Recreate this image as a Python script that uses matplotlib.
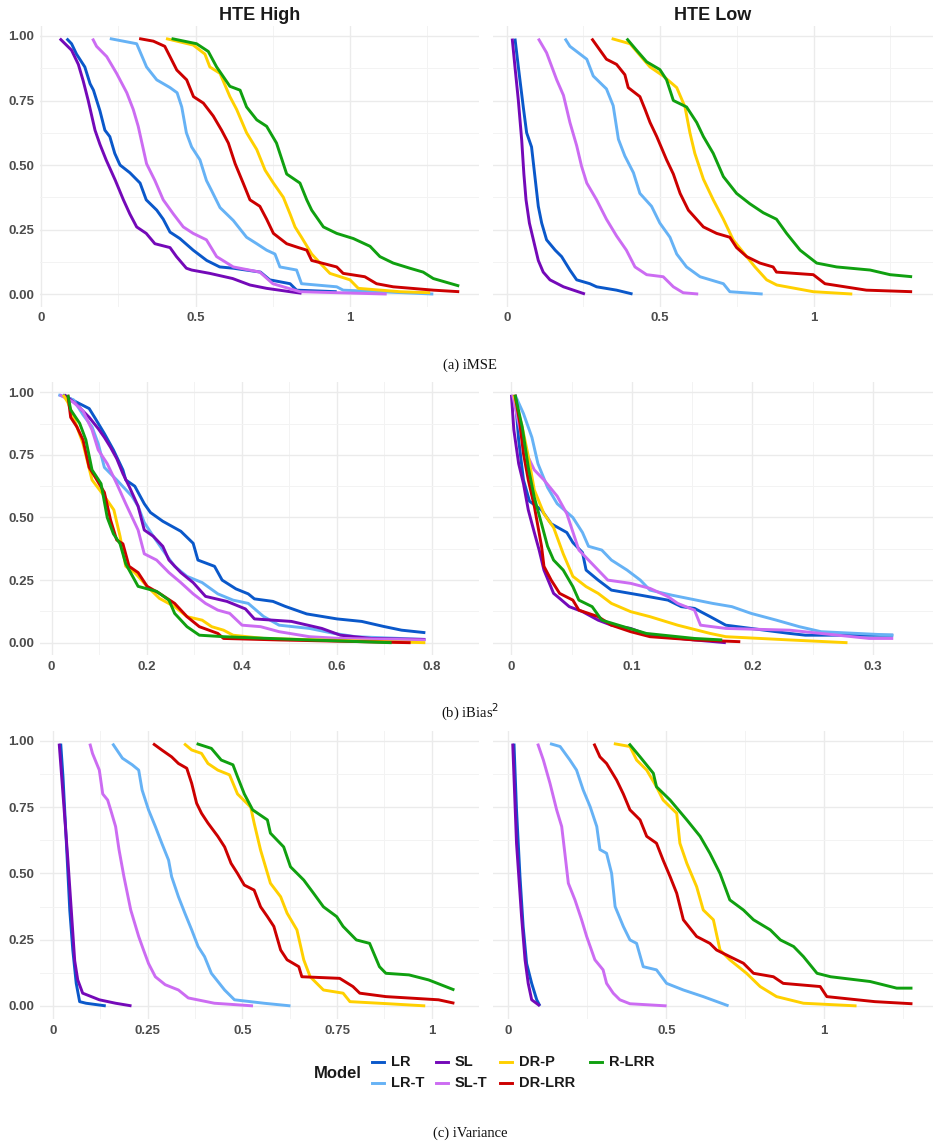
import matplotlib
matplotlib.use("Agg")
import matplotlib.pyplot as plt
from matplotlib.lines import Line2D

# ---------------- data ----------------
MODELS = ["LR", "LR-T", "SL", "SL-T", "DR-P", "DR-LRR", "R-LRR"]
COLORS = {"LR": "#0A58CA", "LR-T": "#66B2F5", "SL": "#7409B8", "SL-T": "#CC6CF2",
          "DR-P": "#FFD000", "DR-LRR": "#CC0000", "R-LRR": "#10A010"}
COL_TITLES = ["HTE High", "HTE Low"]
CAPTIONS = ["(a) iMSE", "(b) iBias$^2$", "(c) iVariance"]

# each curve: list of (value, share of runs above value)
IMSE_HIGH = {
    "SL": [(0.06,0.99),(0.098,0.945),(0.12,0.89),(0.136,0.825),(0.152,0.75),(0.174,0.635),(0.19,0.58),(0.21,0.52),(0.24,0.44),(0.266,0.365),(0.287,0.31),(0.309,0.26),(0.34,0.235),(0.368,0.195),(0.417,0.18),(0.438,0.145),(0.47,0.10),(0.487,0.093),(0.546,0.08),(0.62,0.06),(0.676,0.035),(0.73,0.022),(0.806,0.009),(0.843,0.003)],
    "LR": [(0.082,0.99),(0.098,0.97),(0.114,0.93),(0.141,0.88),(0.158,0.815),(0.169,0.79),(0.19,0.71),(0.206,0.635),(0.222,0.61),(0.238,0.545),(0.255,0.50),(0.287,0.47),(0.32,0.43),(0.34,0.365),(0.374,0.325),(0.395,0.29),(0.417,0.24),(0.449,0.215),(0.492,0.17),(0.536,0.13),(0.578,0.105),(0.622,0.10),(0.71,0.085),(0.74,0.055),(0.806,0.04),(0.827,0.015),(0.957,0.009)],
    "LR-T": [(0.222,0.99),(0.309,0.97),(0.341,0.88),(0.374,0.83),(0.417,0.80),(0.44,0.78),(0.455,0.725),(0.47,0.625),(0.487,0.57),(0.514,0.52),(0.535,0.44),(0.552,0.40),(0.579,0.335),(0.622,0.285),(0.665,0.22),(0.698,0.195),(0.73,0.17),(0.757,0.155),(0.773,0.105),(0.827,0.093),(0.843,0.04),(0.957,0.028),(0.978,0.015),(1.27,0.0)],
    "SL-T": [(0.166,0.99),(0.179,0.96),(0.212,0.92),(0.244,0.855),(0.277,0.78),(0.298,0.715),(0.314,0.65),(0.341,0.505),(0.368,0.44),(0.395,0.365),(0.428,0.31),(0.46,0.26),(0.492,0.235),(0.535,0.21),(0.568,0.145),(0.622,0.105),(0.708,0.085),(0.75,0.04),(0.838,0.009),(1.119,0.0)],
    "DR-P": [(0.404,0.99),(0.492,0.965),(0.53,0.93),(0.546,0.88),(0.579,0.855),(0.611,0.765),(0.633,0.715),(0.665,0.625),(0.698,0.56),(0.725,0.48),(0.752,0.43),(0.784,0.375),(0.806,0.31),(0.822,0.26),(0.843,0.22),(0.876,0.155),(0.903,0.12),(0.935,0.08),(1.0,0.055),(1.027,0.022),(1.162,0.009),(1.26,0.005)],
    "DR-LRR": [(0.317,0.99),(0.363,0.98),(0.40,0.96),(0.417,0.92),(0.439,0.868),(0.471,0.83),(0.493,0.765),(0.525,0.74),(0.557,0.69),(0.584,0.635),(0.606,0.585),(0.628,0.505),(0.654,0.43),(0.676,0.365),(0.708,0.34),(0.73,0.29),(0.752,0.235),(0.795,0.195),(0.833,0.18),(0.86,0.17),(0.876,0.13),(0.957,0.105),(0.978,0.08),(1.048,0.067),(1.086,0.04),(1.14,0.028),(1.27,0.015),(1.354,0.009)],
    "R-LRR": [(0.422,0.99),(0.503,0.97),(0.541,0.94),(0.568,0.88),(0.611,0.805),(0.644,0.79),(0.665,0.725),(0.698,0.675),(0.73,0.65),(0.762,0.585),(0.795,0.465),(0.838,0.43),(0.86,0.365),(0.876,0.325),(0.914,0.26),(0.957,0.235),(1.011,0.215),(1.065,0.185),(1.097,0.145),(1.14,0.12),(1.194,0.10),(1.237,0.085),(1.27,0.06),(1.354,0.031)],
}
IMSE_LOW = {
    "SL": [(0.018,0.99),(0.027,0.88),(0.038,0.75),(0.049,0.595),(0.056,0.465),(0.063,0.365),(0.074,0.275),(0.087,0.21),(0.103,0.13),(0.119,0.085),(0.141,0.055),(0.185,0.028),(0.255,0.0)],
    "LR": [(0.027,0.99),(0.038,0.88),(0.054,0.725),(0.065,0.625),(0.081,0.57),(0.092,0.455),(0.103,0.34),(0.114,0.275),(0.13,0.21),(0.158,0.17),(0.179,0.145),(0.206,0.093),(0.228,0.055),(0.271,0.04),(0.293,0.028),(0.358,0.015),(0.41,0.0)],
    "SL-T": [(0.103,0.99),(0.13,0.935),(0.163,0.83),(0.185,0.77),(0.206,0.665),(0.228,0.575),(0.244,0.495),(0.261,0.43),(0.293,0.365),(0.325,0.29),(0.358,0.225),(0.39,0.17),(0.418,0.105),(0.456,0.075),(0.51,0.067),(0.543,0.028),(0.575,0.005),(0.624,0.0)],
    "LR-T": [(0.19,0.99),(0.206,0.96),(0.261,0.91),(0.282,0.845),(0.325,0.795),(0.347,0.73),(0.364,0.60),(0.385,0.535),(0.413,0.47),(0.434,0.39),(0.472,0.34),(0.499,0.275),(0.532,0.22),(0.554,0.155),(0.586,0.105),(0.63,0.067),(0.706,0.04),(0.727,0.009),(0.834,0.0)],
    "DR-LRR": [(0.277,0.99),(0.304,0.945),(0.325,0.91),(0.358,0.89),(0.385,0.85),(0.396,0.80),(0.434,0.765),(0.451,0.715),(0.467,0.665),(0.489,0.61),(0.521,0.52),(0.543,0.465),(0.565,0.39),(0.592,0.325),(0.641,0.26),(0.684,0.235),(0.727,0.22),(0.749,0.18),(0.782,0.145),(0.825,0.12),(0.868,0.105),(0.879,0.085),(0.999,0.075),(1.037,0.04),(1.172,0.015),(1.321,0.009)],
    "DR-P": [(0.342,0.99),(0.402,0.97),(0.445,0.91),(0.467,0.88),(0.51,0.845),(0.554,0.80),(0.581,0.725),(0.597,0.625),(0.613,0.545),(0.641,0.445),(0.673,0.365),(0.706,0.29),(0.738,0.21),(0.782,0.145),(0.809,0.105),(0.847,0.055),(0.88,0.035),(0.999,0.009),(1.126,0.0)],
    "R-LRR": [(0.391,0.99),(0.423,0.945),(0.456,0.90),(0.499,0.87),(0.521,0.83),(0.543,0.75),(0.586,0.725),(0.619,0.665),(0.641,0.61),(0.673,0.545),(0.706,0.455),(0.749,0.39),(0.792,0.35),(0.836,0.315),(0.879,0.29),(0.912,0.235),(0.956,0.17),(1.01,0.12),(1.075,0.105),(1.184,0.093),(1.249,0.075),(1.321,0.067)],
}
IBIAS_HIGH = {
    "LR": [(0.024,0.99),(0.053,0.96),(0.079,0.935),(0.092,0.895),(0.111,0.835),(0.13,0.77),(0.15,0.69),(0.156,0.65),(0.175,0.625),(0.195,0.555),(0.208,0.52),(0.234,0.485),(0.272,0.445),(0.298,0.397),(0.308,0.33),(0.343,0.305),(0.359,0.25),(0.388,0.215),(0.414,0.195),(0.427,0.175),(0.466,0.165),(0.492,0.145),(0.537,0.115),(0.601,0.095),(0.653,0.085),(0.699,0.065),(0.737,0.05),(0.787,0.04)],
    "SL": [(0.027,0.99),(0.053,0.95),(0.079,0.90),(0.098,0.855),(0.111,0.82),(0.124,0.78),(0.137,0.735),(0.15,0.675),(0.163,0.625),(0.182,0.545),(0.195,0.45),(0.214,0.425),(0.234,0.385),(0.247,0.33),(0.272,0.28),(0.298,0.24),(0.324,0.185),(0.369,0.165),(0.408,0.135),(0.427,0.095),(0.505,0.085),(0.569,0.057),(0.608,0.03),(0.673,0.017),(0.787,0.013)],
    "LR-T": [(0.014,0.99),(0.046,0.97),(0.066,0.91),(0.085,0.862),(0.098,0.795),(0.111,0.70),(0.137,0.65),(0.169,0.585),(0.182,0.545),(0.195,0.48),(0.214,0.425),(0.234,0.37),(0.259,0.305),(0.285,0.265),(0.317,0.24),(0.35,0.195),(0.382,0.17),(0.414,0.157),(0.446,0.105),(0.479,0.07),(0.543,0.057),(0.595,0.037),(0.64,0.024),(0.787,0.013)],
    "SL-T": [(0.017,0.99),(0.046,0.96),(0.066,0.925),(0.085,0.85),(0.098,0.77),(0.117,0.715),(0.137,0.635),(0.156,0.555),(0.182,0.45),(0.195,0.355),(0.221,0.33),(0.247,0.28),(0.272,0.24),(0.298,0.195),(0.324,0.157),(0.35,0.13),(0.375,0.117),(0.401,0.07),(0.44,0.064),(0.479,0.044),(0.543,0.024),(0.608,0.017),(0.787,0.011)],
    "DR-P": [(0.024,0.99),(0.034,0.96),(0.046,0.90),(0.066,0.795),(0.085,0.65),(0.111,0.585),(0.131,0.53),(0.144,0.425),(0.156,0.305),(0.175,0.28),(0.201,0.225),(0.227,0.177),(0.259,0.144),(0.285,0.104),(0.317,0.09),(0.337,0.064),(0.362,0.05),(0.382,0.03),(0.446,0.017),(0.787,0.0)],
    "DR-LRR": [(0.034,0.99),(0.04,0.90),(0.053,0.862),(0.066,0.81),(0.079,0.70),(0.092,0.66),(0.111,0.60),(0.124,0.49),(0.137,0.41),(0.15,0.395),(0.163,0.305),(0.182,0.28),(0.201,0.225),(0.227,0.197),(0.259,0.157),(0.285,0.104),(0.311,0.064),(0.35,0.037),(0.362,0.017),(0.479,0.011),(0.756,0.0)],
    "R-LRR": [(0.034,0.99),(0.04,0.93),(0.059,0.876),(0.072,0.81),(0.085,0.69),(0.104,0.635),(0.117,0.50),(0.13,0.435),(0.144,0.395),(0.156,0.315),(0.182,0.225),(0.221,0.205),(0.247,0.17),(0.259,0.117),(0.285,0.064),(0.311,0.03),(0.362,0.024),(0.543,0.011),(0.716,0.0)],
}
IBIAS_LOW = {
    "SL": [(0.0,0.99),(0.002,0.85),(0.006,0.715),(0.01,0.635),(0.014,0.53),(0.019,0.44),(0.023,0.37),(0.027,0.29),(0.035,0.197),(0.04,0.177),(0.048,0.144),(0.059,0.124),(0.072,0.09),(0.083,0.07),(0.099,0.057),(0.114,0.03),(0.152,0.011),(0.178,0.0)],
    "LR": [(0.003,0.99),(0.006,0.81),(0.01,0.65),(0.015,0.565),(0.025,0.53),(0.033,0.475),(0.046,0.44),(0.051,0.40),(0.059,0.36),(0.062,0.29),(0.072,0.25),(0.083,0.21),(0.107,0.19),(0.13,0.17),(0.141,0.144),(0.152,0.137),(0.165,0.104),(0.178,0.07),(0.231,0.037),(0.244,0.03),(0.317,0.03)],
    "LR-T": [(0.003,0.99),(0.01,0.915),(0.017,0.82),(0.022,0.715),(0.03,0.62),(0.038,0.555),(0.051,0.50),(0.059,0.44),(0.064,0.385),(0.075,0.37),(0.083,0.33),(0.096,0.29),(0.107,0.25),(0.115,0.21),(0.133,0.19),(0.167,0.157),(0.183,0.144),(0.199,0.117),(0.22,0.09),(0.239,0.064),(0.257,0.044),(0.317,0.03)],
    "SL-T": [(0.001,0.99),(0.006,0.876),(0.011,0.77),(0.019,0.69),(0.027,0.65),(0.038,0.585),(0.046,0.515),(0.056,0.37),(0.072,0.29),(0.08,0.25),(0.099,0.237),(0.115,0.217),(0.13,0.184),(0.138,0.157),(0.152,0.13),(0.157,0.07),(0.178,0.057),(0.231,0.05),(0.257,0.037),(0.297,0.017),(0.317,0.017)],
    "DR-P": [(0.002,0.99),(0.009,0.86),(0.014,0.745),(0.019,0.61),(0.027,0.515),(0.035,0.46),(0.043,0.355),(0.051,0.265),(0.062,0.224),(0.072,0.197),(0.083,0.157),(0.099,0.124),(0.115,0.104),(0.138,0.07),(0.165,0.037),(0.178,0.024),(0.231,0.011),(0.279,0.0)],
    "DR-LRR": [(0.003,0.99),(0.007,0.876),(0.01,0.755),(0.014,0.65),(0.019,0.545),(0.022,0.465),(0.025,0.385),(0.027,0.305),(0.033,0.25),(0.04,0.197),(0.051,0.17),(0.056,0.13),(0.072,0.104),(0.083,0.07),(0.099,0.044),(0.115,0.024),(0.152,0.011),(0.19,0.004)],
    "R-LRR": [(0.003,0.99),(0.009,0.86),(0.014,0.70),(0.019,0.58),(0.025,0.475),(0.03,0.385),(0.035,0.33),(0.043,0.29),(0.051,0.224),(0.056,0.17),(0.067,0.144),(0.075,0.09),(0.093,0.064),(0.112,0.037),(0.152,0.017),(0.175,0.011)],
}
IVAR_HIGH = {
    "LR": [(0.02,0.99),(0.026,0.865),(0.035,0.615),(0.044,0.36),(0.052,0.21),(0.061,0.085),(0.07,0.016),(0.087,0.01),(0.139,0.0)],
    "SL": [(0.016,0.99),(0.026,0.80),(0.039,0.55),(0.048,0.36),(0.057,0.17),(0.065,0.098),(0.078,0.048),(0.122,0.023),(0.165,0.01),(0.207,0.0)],
    "SL-T": [(0.097,0.99),(0.104,0.953),(0.122,0.89),(0.131,0.80),(0.144,0.777),(0.152,0.74),(0.165,0.677),(0.174,0.59),(0.187,0.488),(0.196,0.425),(0.205,0.362),(0.218,0.30),(0.226,0.262),(0.239,0.21),(0.252,0.16),(0.27,0.11),(0.296,0.08),(0.331,0.06),(0.357,0.03),(0.426,0.01),(0.528,0.0)],
    "LR-T": [(0.157,0.99),(0.183,0.935),(0.209,0.91),(0.226,0.89),(0.235,0.815),(0.252,0.74),(0.27,0.677),(0.287,0.614),(0.305,0.55),(0.313,0.488),(0.331,0.412),(0.348,0.35),(0.366,0.287),(0.383,0.224),(0.40,0.186),(0.418,0.123),(0.453,0.06),(0.479,0.023),(0.557,0.01),(0.627,0.0)],
    "DR-LRR": [(0.264,0.99),(0.287,0.966),(0.313,0.94),(0.331,0.915),(0.353,0.897),(0.366,0.84),(0.379,0.765),(0.392,0.727),(0.409,0.69),(0.435,0.64),(0.453,0.60),(0.47,0.538),(0.487,0.50),(0.505,0.456),(0.531,0.437),(0.548,0.374),(0.566,0.337),(0.583,0.30),(0.601,0.211),(0.618,0.174),(0.649,0.148),(0.657,0.11),(0.757,0.104),(0.792,0.073),(0.81,0.048),(0.879,0.035),(1.018,0.023),(1.06,0.01)],
    "DR-P": [(0.346,0.99),(0.366,0.966),(0.392,0.953),(0.409,0.915),(0.435,0.89),(0.466,0.872),(0.487,0.80),(0.522,0.75),(0.531,0.69),(0.548,0.588),(0.574,0.463),(0.601,0.412),(0.618,0.35),(0.644,0.287),(0.662,0.174),(0.679,0.11),(0.714,0.06),(0.766,0.048),(0.784,0.016),(0.887,0.008),(0.983,0.0)],
    "R-LRR": [(0.379,0.99),(0.418,0.972),(0.444,0.928),(0.475,0.91),(0.487,0.865),(0.505,0.80),(0.527,0.74),(0.566,0.702),(0.574,0.652),(0.609,0.60),(0.627,0.525),(0.662,0.475),(0.688,0.425),(0.714,0.374),(0.749,0.337),(0.766,0.30),(0.801,0.249),(0.836,0.236),(0.862,0.148),(0.879,0.123),(0.94,0.117),(0.992,0.098),(1.06,0.06)],
}
IVAR_LOW = {
    "LR": [(0.018,0.99),(0.026,0.74),(0.037,0.488),(0.047,0.30),(0.058,0.16),(0.074,0.085),(0.09,0.023),(0.10,0.0)],
    "SL": [(0.014,0.99),(0.026,0.614),(0.042,0.337),(0.053,0.174),(0.063,0.085),(0.074,0.023),(0.10,0.0)],
    "SL-T": [(0.093,0.99),(0.111,0.928),(0.132,0.84),(0.153,0.74),(0.169,0.677),(0.179,0.576),(0.19,0.463),(0.211,0.40),(0.232,0.325),(0.248,0.262),(0.274,0.174),(0.30,0.136),(0.311,0.085),(0.332,0.048),(0.353,0.023),(0.385,0.008),(0.501,0.0)],
    "LR-T": [(0.132,0.99),(0.164,0.979),(0.195,0.928),(0.216,0.89),(0.237,0.815),(0.259,0.752),(0.28,0.677),(0.29,0.59),(0.311,0.576),(0.327,0.50),(0.338,0.375),(0.364,0.30),(0.385,0.249),(0.406,0.236),(0.427,0.148),(0.469,0.136),(0.501,0.085),(0.554,0.06),(0.617,0.035),(0.697,0.0)],
    "DR-LRR": [(0.271,0.99),(0.29,0.94),(0.311,0.915),(0.343,0.852),(0.364,0.80),(0.385,0.74),(0.417,0.702),(0.438,0.64),(0.469,0.614),(0.49,0.55),(0.512,0.488),(0.533,0.425),(0.554,0.325),(0.596,0.262),(0.638,0.236),(0.659,0.211),(0.701,0.186),(0.744,0.161),(0.776,0.123),(0.839,0.11),(0.87,0.085),(0.987,0.073),(1.008,0.035),(1.16,0.016),(1.279,0.008)],
    "DR-P": [(0.334,0.99),(0.385,0.979),(0.406,0.928),(0.438,0.89),(0.469,0.827),(0.49,0.777),(0.533,0.727),(0.543,0.614),(0.565,0.538),(0.596,0.45),(0.617,0.362),(0.649,0.325),(0.67,0.211),(0.701,0.174),(0.754,0.123),(0.797,0.073),(0.849,0.035),(0.934,0.01),(1.102,0.0)],
    "R-LRR": [(0.382,0.99),(0.417,0.94),(0.459,0.878),(0.469,0.827),(0.512,0.777),(0.565,0.702),(0.607,0.64),(0.638,0.576),(0.67,0.50),(0.701,0.40),(0.744,0.362),(0.776,0.325),(0.829,0.287),(0.861,0.249),(0.903,0.224),(0.934,0.186),(0.977,0.123),(1.02,0.11),(1.145,0.092),(1.229,0.067),(1.279,0.067)],
}

PANELS = [[IMSE_HIGH, IMSE_LOW], [IBIAS_HIGH, IBIAS_LOW], [IVAR_HIGH, IVAR_LOW]]
XLIMS = [[(-0.0042, 1.418), (-0.0446, 1.389)],
         [(-0.0246, 0.8254), (-0.0153, 0.3339)],
         [(-0.0347, 1.1115), (-0.0484, 1.344)]]
XMAJOR = [[[0, 0.5, 1], [0, 0.5, 1]],
          [[0, 0.2, 0.4, 0.6, 0.8], [0, 0.1, 0.2, 0.3]],
          [[0, 0.25, 0.5, 0.75, 1], [0, 0.5, 1]]]
XLABELS = [[["0", "0.5", "1"], ["0", "0.5", "1"]],
           [["0", "0.2", "0.4", "0.6", "0.8"], ["0", "0.1", "0.2", "0.3"]],
           [["0", "0.25", "0.5", "0.75", "1"], ["0", "0.5", "1"]]]
YMAJOR = [0, 0.25, 0.5, 0.75, 1.0]
YLABELS = ["0.00", "0.25", "0.50", "0.75", "1.00"]

# ---------------- layout ----------------
W, H = 939, 1148
fig = plt.figure(figsize=(W / 100, H / 100), dpi=100)
fig.patch.set_facecolor("white")

ROWS_PX = [(25.8, 306.8), (382.4, 655.1), (730.5, 1019.0)]
COLS_PX = [(40, 479), (493, 933)]
TICKFONT = dict(family="Liberation Sans", weight="bold", size=9.5)
TICKCOLOR = "#4D4D4D"

for r in range(3):
    top, bot = ROWS_PX[r]
    for c in range(2):
        l, rr = COLS_PX[c]
        ax = fig.add_axes([l / W, 1 - bot / H, (rr - l) / W, (bot - top) / H])
        ax.set_facecolor("white")
        for s in ax.spines.values():
            s.set_visible(False)
        data = PANELS[r][c]
        for m in MODELS:
            pts = data[m]
            xs = [p[0] for p in pts]
            ys = [p[1] for p in pts]
            ax.plot(xs, ys, color=COLORS[m], lw=2.1, solid_joinstyle="round",
                    solid_capstyle="butt", zorder=3)
        ax.set_xlim(*XLIMS[r][c])
        ax.set_ylim(-0.0495, 1.0395)
        maj = XMAJOR[r][c]
        step = maj[1] - maj[0]
        minors = [v + step / 2 for v in maj]
        ax.set_xticks(maj)
        ax.set_xticks(minors, minor=True)
        ax.set_xticklabels(XLABELS[r][c], fontdict=TICKFONT, color=TICKCOLOR)
        ax.set_yticks(YMAJOR)
        ax.set_yticks([0.125, 0.375, 0.625, 0.875], minor=True)
        if c == 0:
            ax.set_yticklabels(YLABELS, fontdict=TICKFONT, color=TICKCOLOR)
        else:
            ax.set_yticklabels([])
        ax.tick_params(which="both", length=0)
        ax.tick_params(axis="x", pad=4)
        ax.tick_params(axis="y", pad=4)
        ax.grid(which="major", color="#EBEBEB", lw=1.0, zorder=0)
        ax.grid(which="minor", color="#F3F3F3", lw=0.7, zorder=0)
        ax.set_axisbelow(True)
        if r == 0:
            ax.set_title(COL_TITLES[c], fontdict=dict(family="Liberation Sans",
                         weight="bold", size=13), color="#1A1A1A", pad=4.5)

# captions
CAP_Y = [365, 712, 1133]
for cap, y in zip(CAPTIONS, CAP_Y):
    fig.text(470 / W, 1 - y / H, cap, ha="center", va="center",
             family="Liberation Serif", size=10.5, color="#111111")

# legend
fig.text(338 / W, 1 - 1073 / H, "Model", ha="center", va="center",
         family="Liberation Sans", weight="bold", size=12, color="#1A1A1A")
LEG_POS = {"LR": (372, 1062), "LR-T": (372, 1083), "SL": (436, 1062),
           "SL-T": (436, 1083), "DR-P": (500, 1062), "DR-LRR": (500, 1083),
           "R-LRR": (590, 1062)}
for m in MODELS:
    x, y = LEG_POS[m]
    fig.add_artist(Line2D([x / W, (x + 12) / W], [1 - y / H, 1 - y / H],
                          transform=fig.transFigure, color=COLORS[m], lw=2.1))
    fig.text((x + 19) / W, 1 - y / H, m, ha="left", va="center",
             family="Liberation Sans", weight="bold", size=10.5, color="#1A1A1A")

fig.savefig("out.png", dpi=100, facecolor="white")
